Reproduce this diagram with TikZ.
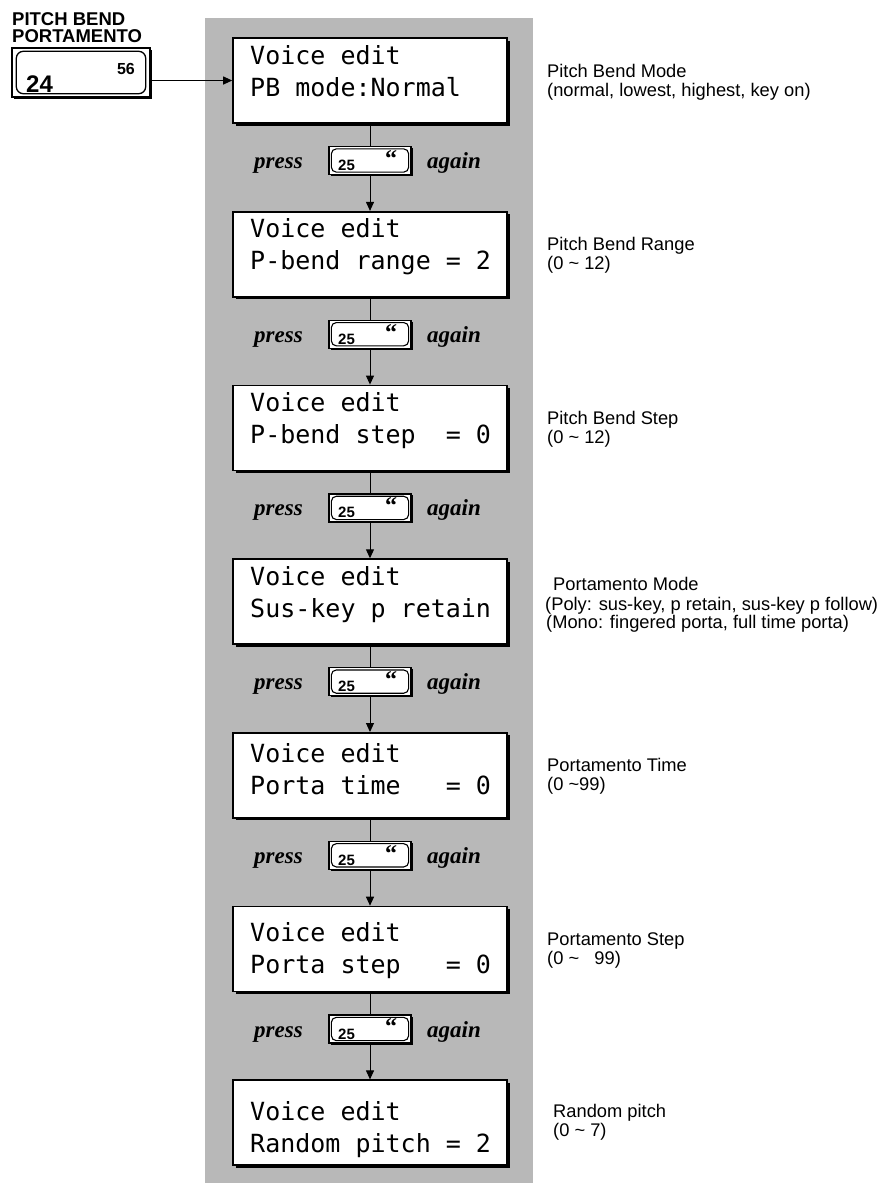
\documentclass[tikz,border=0pt]{standalone}
\usepackage{fontspec}
\newfontfamily\lcdfont{DejaVu Sans Mono}
\newfontfamily\arialf{Liberation Sans}
\newfontfamily\seriff{Liberation Serif}
\usetikzlibrary{shadows,arrows.meta}
\newcommand{\lcdbox}[5]{%
  \node[lcd] (b#1) at (370,#2+42.5) {};
  \node[lcdtxt] (b#1a) at (250,#2+#3) {Voice edit};
  \node[lcdtxt] (b#1b) at (250,#2+#3+32) {#4};
}
\newcommand{\presskey}[2]{%
  \node[key] (k#1) at (370,#2) {};
  \draw[line width=1.1pt, rounded corners=5pt] ([shift={(3,3)}]k#1.north west) rectangle ([shift={(-3,-3)}]k#1.south east);
  \node[keynum] (k#1n) at (338,#2+10) {25};
  \node[keyq] (k#1q) at (391,#2-2) {“};
  \node[pa, anchor=base east] (k#1p) at (303,#2+8) {press};
  \node[pa, anchor=base west] (k#1g) at (427,#2+8) {again};
}
\begin{document}
\begin{tikzpicture}[x=1pt,y=-1pt,
  lcd/.style={draw, line width=1.6pt, fill=white, minimum width=274pt, minimum height=85pt, inner sep=0pt,
    drop shadow={shadow xshift=2.5pt, shadow yshift=-2.5pt, opacity=1, fill=black}},
  lcdtxt/.style={anchor=base west, inner sep=0pt, font=\lcdfont\fontsize{25}{30}\selectfont},
  key/.style={draw, line width=1.3pt, fill=white, minimum width=82pt, minimum height=28pt, inner sep=0pt,
    drop shadow={shadow xshift=1.5pt, shadow yshift=-1.5pt, opacity=1, fill=black}},
  keynum/.style={anchor=base west, inner sep=0pt, font=\arialf\bfseries\fontsize{15}{16}\selectfont},
  keyq/.style={inner sep=0pt, font=\seriff\bfseries\fontsize{24}{24}\selectfont},
  pa/.style={inner sep=0pt, font=\seriff\bfseries\itshape\fontsize{23}{24}\selectfont},
  lbl/.style={anchor=base west, inner sep=0pt, font=\arialf\fontsize{18.3}{20}\selectfont},
  conn/.style={line width=1pt},
  arr/.style={line width=1pt, -{Triangle[length=9pt,width=8pt]}}
]
\useasboundingbox (0,0) rectangle (886,1183);
\fill[black!28] (205,18) rectangle (533,1183);

% top-left key
\node[anchor=base west, inner sep=0pt, font=\arialf\bfseries\fontsize{18.5}{20}\selectfont] (h1) at (12,25) {PITCH BEND};
\node[anchor=base west, inner sep=0pt, font=\arialf\bfseries\fontsize{18.5}{20}\selectfont] (h2) at (12,42) {PORTAMENTO};
\node[draw, line width=1.4pt, fill=white, minimum width=138pt, minimum height=49pt, inner sep=0pt,
  drop shadow={shadow xshift=2pt, shadow yshift=-2pt, opacity=1, fill=black}] (tlb) at (81,72.5) {};
\draw[line width=1.3pt, rounded corners=7pt] ([shift={(5,4)}]tlb.north west) rectangle ([shift={(-5,-4)}]tlb.south east);
\node[anchor=base east, inner sep=0pt, font=\arialf\bfseries\fontsize{16}{17}\selectfont] (tlb56) at (135,74) {56};
\node[anchor=base west, inner sep=0pt, font=\arialf\bfseries\fontsize{24}{24}\selectfont] (tlb24) at (26,92) {24};

% LCD boxes
\lcdbox{1}{38}{26}{PB mode:Normal}{}
\lcdbox{2}{211.7}{26}{P-bend range = 2}{}
\lcdbox{3}{385.4}{26}{P-bend step~~= 0}{}
\lcdbox{4}{559.1}{26}{Sus-key p retain}{}
\lcdbox{5}{732.8}{30}{Porta time~~~= 0}{}
\lcdbox{6}{906.5}{35}{Porta step~~~= 0}{}
\lcdbox{7}{1080.2}{40}{Random pitch = 2}{}

% keys
\presskey{1}{160.5}
\presskey{2}{334.2}
\presskey{3}{507.9}
\presskey{4}{681.6}
\presskey{5}{855.3}
\presskey{6}{1029}

% connectors
\draw[arr] (tlb.east |- b1.west) -- (b1.west);
\foreach \i/\j in {1/2,2/3,3/4,4/5,5/6,6/7}{
  \draw[conn] (b\i.south) -- (k\i.north);
  \draw[arr] (k\i.south) -- (b\j.north);
}

% labels
\node[lbl] (l1a) at (547,77) {Pitch Bend Mode};
\node[lbl] (l1b) at (547,96) {(normal, lowest, highest, key on)};
\node[lbl] (l2a) at (547,250.7) {Pitch Bend Range};
\node[lbl] (l2b) at (547,269.7) {(0 \textasciitilde\ 12)};
\node[lbl] (l3a) at (547,424.4) {Pitch Bend Step};
\node[lbl] (l3b) at (547,443.4) {(0 \textasciitilde\ 12)};
\node[lbl] (l4a) at (553,590) {Portamento Mode};
\node[lbl] (l4b) at (545,610) {(Poly: sus-key, p retain, sus-key p follow)};
\node[lbl] (l4c) at (546,628) {(Mono: fingered porta, full time porta)};
\node[lbl] (l5a) at (547,771.8) {Portamento Time};
\node[lbl] (l5b) at (547,790.8) {(0 \textasciitilde99)};
\node[lbl] (l6a) at (547,945.5) {Portamento Step};
\node[lbl] (l6b) at (547,964.5) {(0 \textasciitilde\ \ \ 99)};
\node[lbl] (l7a) at (553,1117) {Random pitch};
\node[lbl] (l7b) at (553,1136) {(0 \textasciitilde\ 7)};
\end{tikzpicture}
\end{document}
